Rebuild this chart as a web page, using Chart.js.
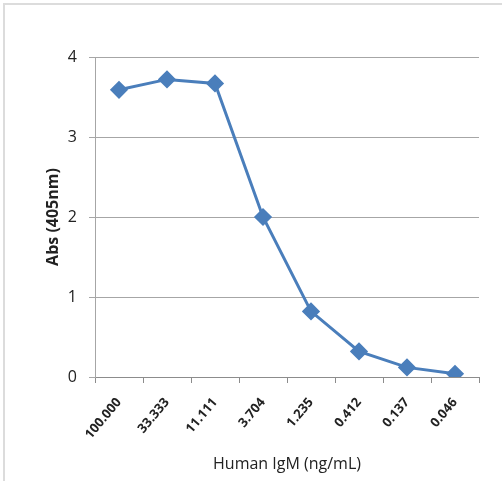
<!DOCTYPE html>
<html>
<head>
<meta charset="utf-8">
<script src="https://cdn.jsdelivr.net/npm/chart.js@4"></script>
<style>
  html, body { margin: 0; padding: 0; background: #fff; }
  #wrap { position: relative; width: 502px; height: 481px; }
  #frame { position: absolute; left: 3px; top: 3px; width: 499px; height: 478px;
           border-top: 2px solid #dcdcdc; border-left: 2px solid #dcdcdc; box-sizing: border-box; }
  canvas { position: absolute; left: 0; top: 0; }
</style>
</head>
<body>
<div id="wrap">
  <div id="frame"></div>
  <canvas id="c" width="502" height="481"></canvas>
</div>
<script>
const categories = ["100.000", "33.333", "11.111", "3.704", "1.235", "0.412", "0.137", "0.046"];
const absValues = [3.59, 3.72, 3.67, 2.00, 0.82, 0.32, 0.12, 0.04];
const yTicks = [0, 1, 2, 3, 4];
const xTitle = "Human IgM (ng/mL)";
const yTitle = "Abs (405nm)";

const blue = "#4a7ebb";
const font = "'Open Sans', 'Liberation Sans', sans-serif";

new Chart(document.getElementById("c"), {
  type: "line",
  data: {
    labels: categories,
    datasets: [{
      data: absValues,
      borderColor: blue,
      backgroundColor: blue,
      borderWidth: 3,
      pointStyle: "rectRot",
      pointRadius: 7,
      pointHoverRadius: 7,
      pointBackgroundColor: blue,
      pointBorderColor: blue,
      tension: 0,
      fill: false
    }]
  },
  options: {
    responsive: false,
    animation: false,
    events: [],
    layout: { padding: { top: 57, right: 23, bottom: 0, left: 0 } },
    plugins: { legend: { display: false }, tooltip: { enabled: false } },
    scales: {
      x: {
        type: "category",
        offset: true,
        afterFit: (s) => { s.height = 104; },
        grid: { offset: true, drawOnChartArea: false, drawTicks: true, tickLength: 6, color: "#8c8c8c" },
        border: { display: true, color: "#8c8c8c", width: 1 },
        ticks: {
          minRotation: 50, maxRotation: 50, autoSkip: false, padding: 12,
          color: "#222", font: { family: font, size: 13, weight: "bold" }
        },
        title: {
          display: true, text: xTitle, color: "#222",
          font: { family: font, size: 16 }, padding: { top: 0, bottom: 7 }
        }
      },
      y: {
        min: 0, max: 4,
        afterFit: (s) => { s.width = 95; },
        afterBuildTicks: (s) => { s.ticks = yTicks.map(v => ({ value: v })); },
        grid: { color: "#a6a6a6", tickLength: 6, drawTicks: true },
        border: { display: true, color: "#a6a6a6", width: 1 },
        ticks: {
          padding: 12, color: "#222",
          font: { family: font, size: 16 }
        },
        title: {
          display: true, text: yTitle, color: "#222",
          font: { family: font, size: 16, weight: "bold" }, padding: { top: 44, bottom: 0 }
        }
      }
    }
  }
});
</script>
</body>
</html>
